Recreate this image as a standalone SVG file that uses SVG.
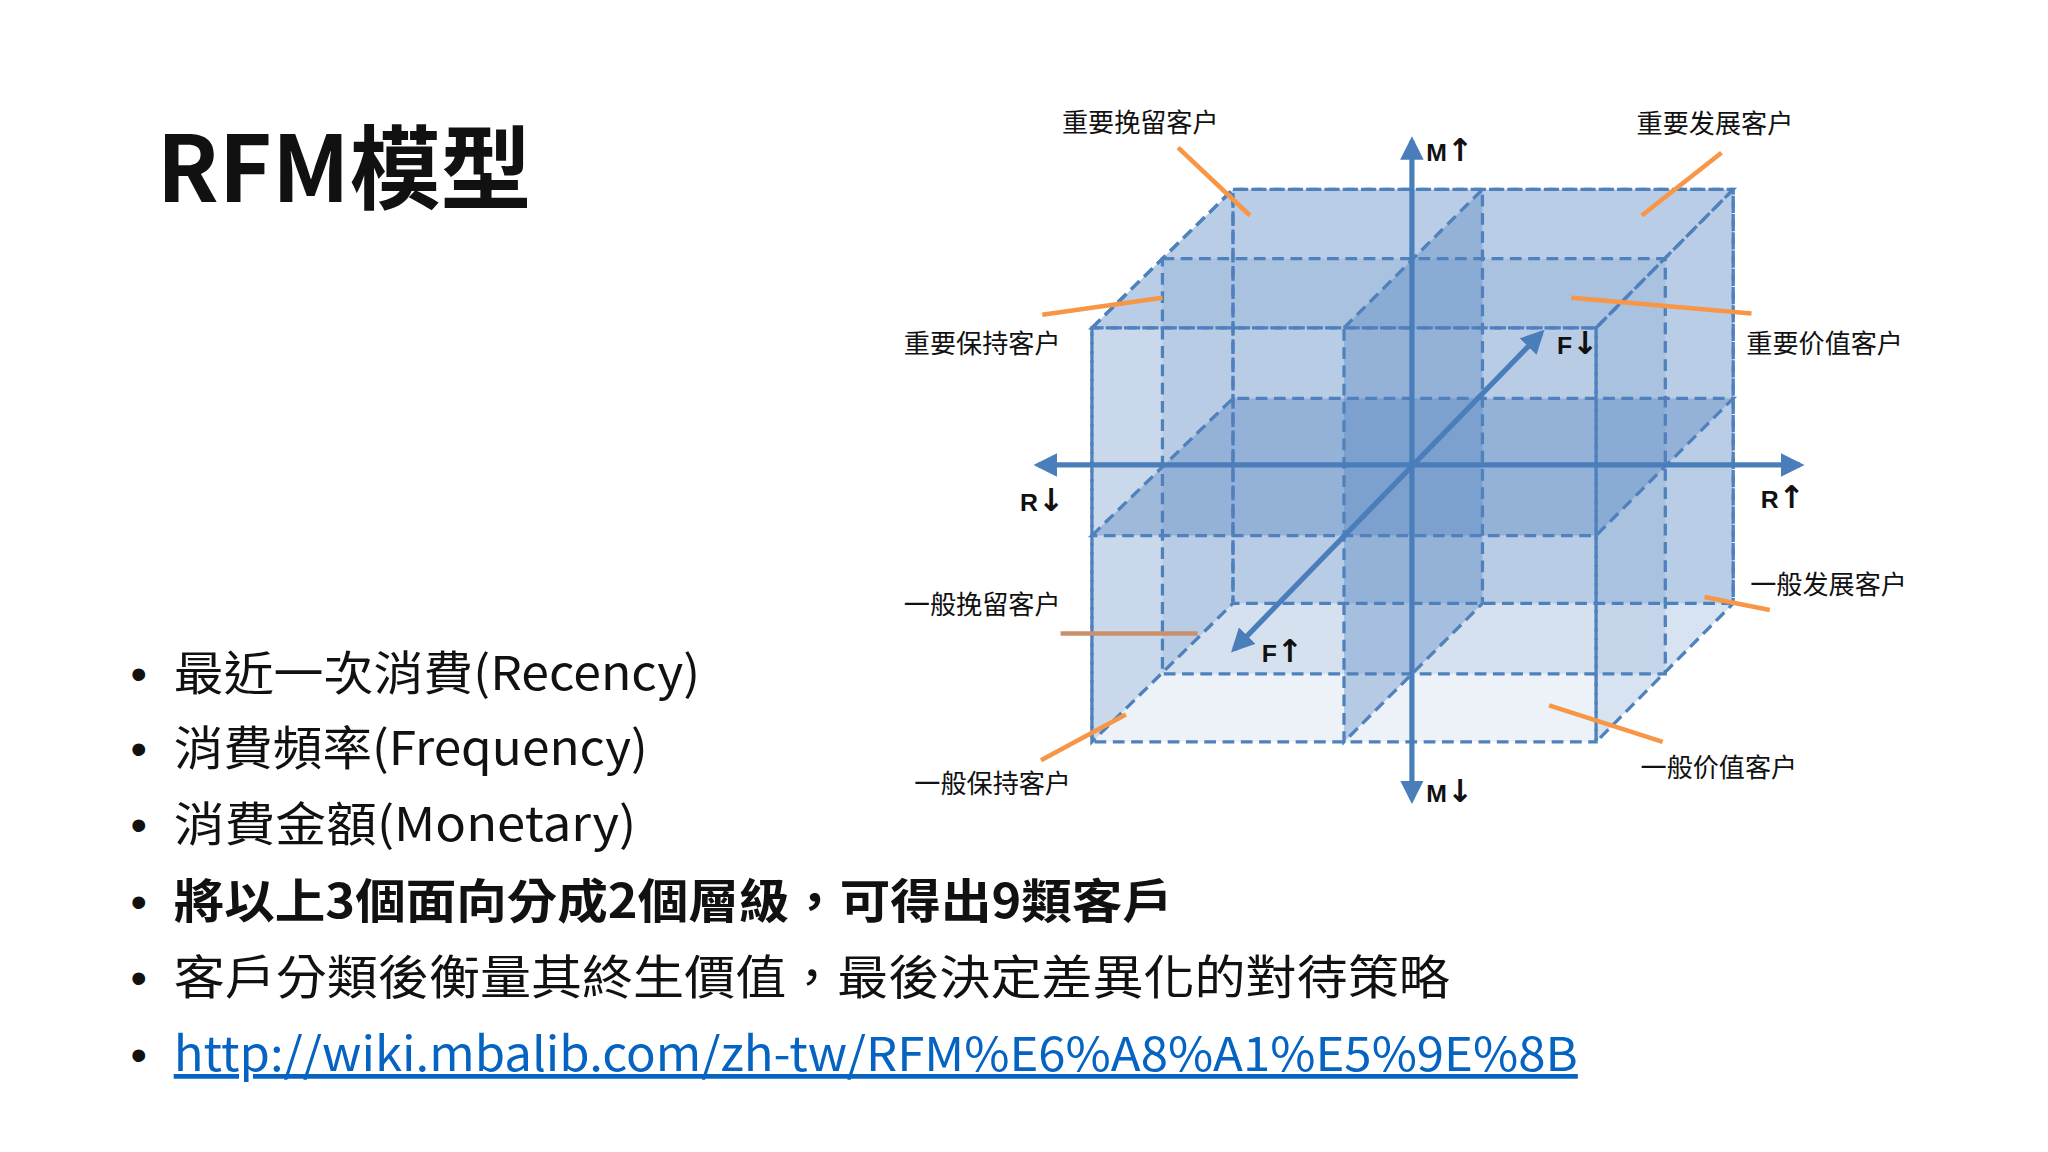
<svg xmlns="http://www.w3.org/2000/svg" width="2048" height="1152" viewBox="0 0 2048 1152">
<style>
.face{fill:#4f81bd;fill-opacity:0.22;stroke:#4f81bd;stroke-width:2.5;stroke-dasharray:9,5}
.plane{fill:#4f81bd;fill-opacity:0.35;stroke:#4f81bd;stroke-width:2.5;stroke-dasharray:9,5}
.ax{stroke:#4a7ebb;stroke-width:4;fill:none}
.or{stroke:#f79646;stroke-width:3.5}
.lb{font-family:"Noto Sans CJK SC","Noto Sans CJK TC",sans-serif;font-size:20px;fill:#111}
.axl{font-family:"Liberation Sans","Noto Sans CJK SC",sans-serif;font-size:19px;font-weight:bold;fill:#111}
.arr{font-family:"DejaVu Sans",sans-serif;font-size:24px;font-weight:bold;fill:#111}
.bt{font-family:"Noto Sans CJK TC","Noto Sans",sans-serif;font-size:36px;fill:#111}
.dot{font-family:"Liberation Sans",sans-serif;font-size:36px;fill:#111}
</style>
<defs>
<marker id="ah" viewBox="0 0 10 10" refX="8" refY="5" markerWidth="4.5" markerHeight="4.5" orient="auto-start-reverse"><path d="M0,0 L10,5 L0,10 z" fill="#4a7ebb"/></marker>
</defs>
<rect width="2048" height="1152" fill="#fff"/>
<g transform="scale(1.30612)">
<g id="title"><text x="120" y="155" font-family="Noto Sans CJK TC,sans-serif" font-size="70" font-weight="bold" fill="#111" textLength="287" lengthAdjust="spacingAndGlyphs">RFM模型</text></g>
<g id="cube">
<rect class="face" x="944" y="145" width="383" height="317"/>
<polygon class="face" points="836,251 944,145 1327,145 1222,251"/>
<polygon class="face" points="1222,251 1327,145 1327,462 1222,568"/>
<polygon class="face" points="836,251 944,145 944,462 836,568"/>
<rect class="face" x="890" y="198" width="385" height="318" style="fill-opacity:0.14"/>
<rect class="face" x="836" y="251" width="386" height="317" style="fill-opacity:0.1"/>
<polygon class="plane" points="836,410 944,305 1327,305 1222,410"/>
<polygon class="plane" points="1029,251 1135,145 1135,462 1029,568"/>
</g>
<g id="connectors">
<line class="ax" x1="1081" y1="612" x2="1081" y2="108" marker-end="url(#ah)" marker-start="url(#ah)"/>
<line class="ax" x1="795" y1="356" x2="1378" y2="356" marker-end="url(#ah)" marker-start="url(#ah)"/>
<line class="ax" x1="945" y1="497" x2="1180" y2="255" marker-end="url(#ah)" marker-start="url(#ah)"/>
<line class="or" x1="902" y1="113" x2="957" y2="165"/>
<line class="or" x1="1318" y1="117" x2="1257" y2="165"/>
<line class="or" x1="798" y1="241" x2="890" y2="228"/>
<line class="or" x1="1203" y1="228" x2="1341" y2="240"/>
<line class="or" x1="812" y1="485" x2="917" y2="485" style="stroke:#c9906e"/>
<line class="or" x1="1305" y1="457" x2="1355" y2="467"/>
<line class="or" x1="797" y1="582" x2="862" y2="547"/>
<line class="or" x1="1186" y1="540" x2="1273" y2="568"/>
</g>
<g id="labels">
<text class="lb" x="873" y="101" text-anchor="middle">重要挽留客户</text>
<text class="lb" x="1313" y="102" text-anchor="middle">重要发展客户</text>
<text class="lb" x="752" y="270" text-anchor="middle">重要保持客户</text>
<text class="lb" x="1397" y="270" text-anchor="middle">重要价值客户</text>
<text class="lb" x="752" y="470" text-anchor="middle">一般挽留客户</text>
<text class="lb" x="1400" y="455" text-anchor="middle">一般发展客户</text>
<text class="lb" x="760" y="607" text-anchor="middle">一般保持客户</text>
<text class="lb" x="1316" y="595" text-anchor="middle">一般价值客户</text>
<text class="axl" x="1092" y="123">M<tspan class="arr">↑</tspan></text>
<text class="axl" x="1192" y="271">F<tspan class="arr">↓</tspan></text>
<text class="axl" x="781" y="391">R<tspan class="arr">↓</tspan></text>
<text class="axl" x="1348" y="389">R<tspan class="arr">↑</tspan></text>
<text class="axl" x="966" y="507">F<tspan class="arr">↑</tspan></text>
<text class="axl" x="1092" y="614">M<tspan class="arr">↓</tspan></text>
</g>
<g id="bullets">
<text class="dot" x="100" y="528">•</text><text class="bt" x="133" y="528" textLength="403" lengthAdjust="spacingAndGlyphs">最近一次消費(Recency)</text>
<text class="dot" x="100" y="586">•</text><text class="bt" x="133" y="586" textLength="363" lengthAdjust="spacingAndGlyphs">消費頻率(Frequency)</text>
<text class="dot" x="100" y="644">•</text><text class="bt" x="133" y="644" textLength="354" lengthAdjust="spacingAndGlyphs">消費金額(Monetary)</text>
<text class="dot" x="100" y="703">•</text><text class="bt" x="133" y="703" font-weight="bold" textLength="765" lengthAdjust="spacingAndGlyphs">將以上3個面向分成2個層級，可得出9類客戶</text>
<text class="dot" x="100" y="761">•</text><text class="bt" x="133" y="761" textLength="977" lengthAdjust="spacingAndGlyphs">客戶分類後衡量其終生價值，最後決定差異化的對待策略</text>
<text class="dot" x="100" y="820">•</text><text class="bt" x="133" y="820" style="fill:#0563c1" text-decoration="underline" textLength="1075" lengthAdjust="spacingAndGlyphs">http://wiki.mbalib.com/zh-tw/RFM%E6%A8%A1%E5%9E%8B</text>
</g>
</g>
</svg>
